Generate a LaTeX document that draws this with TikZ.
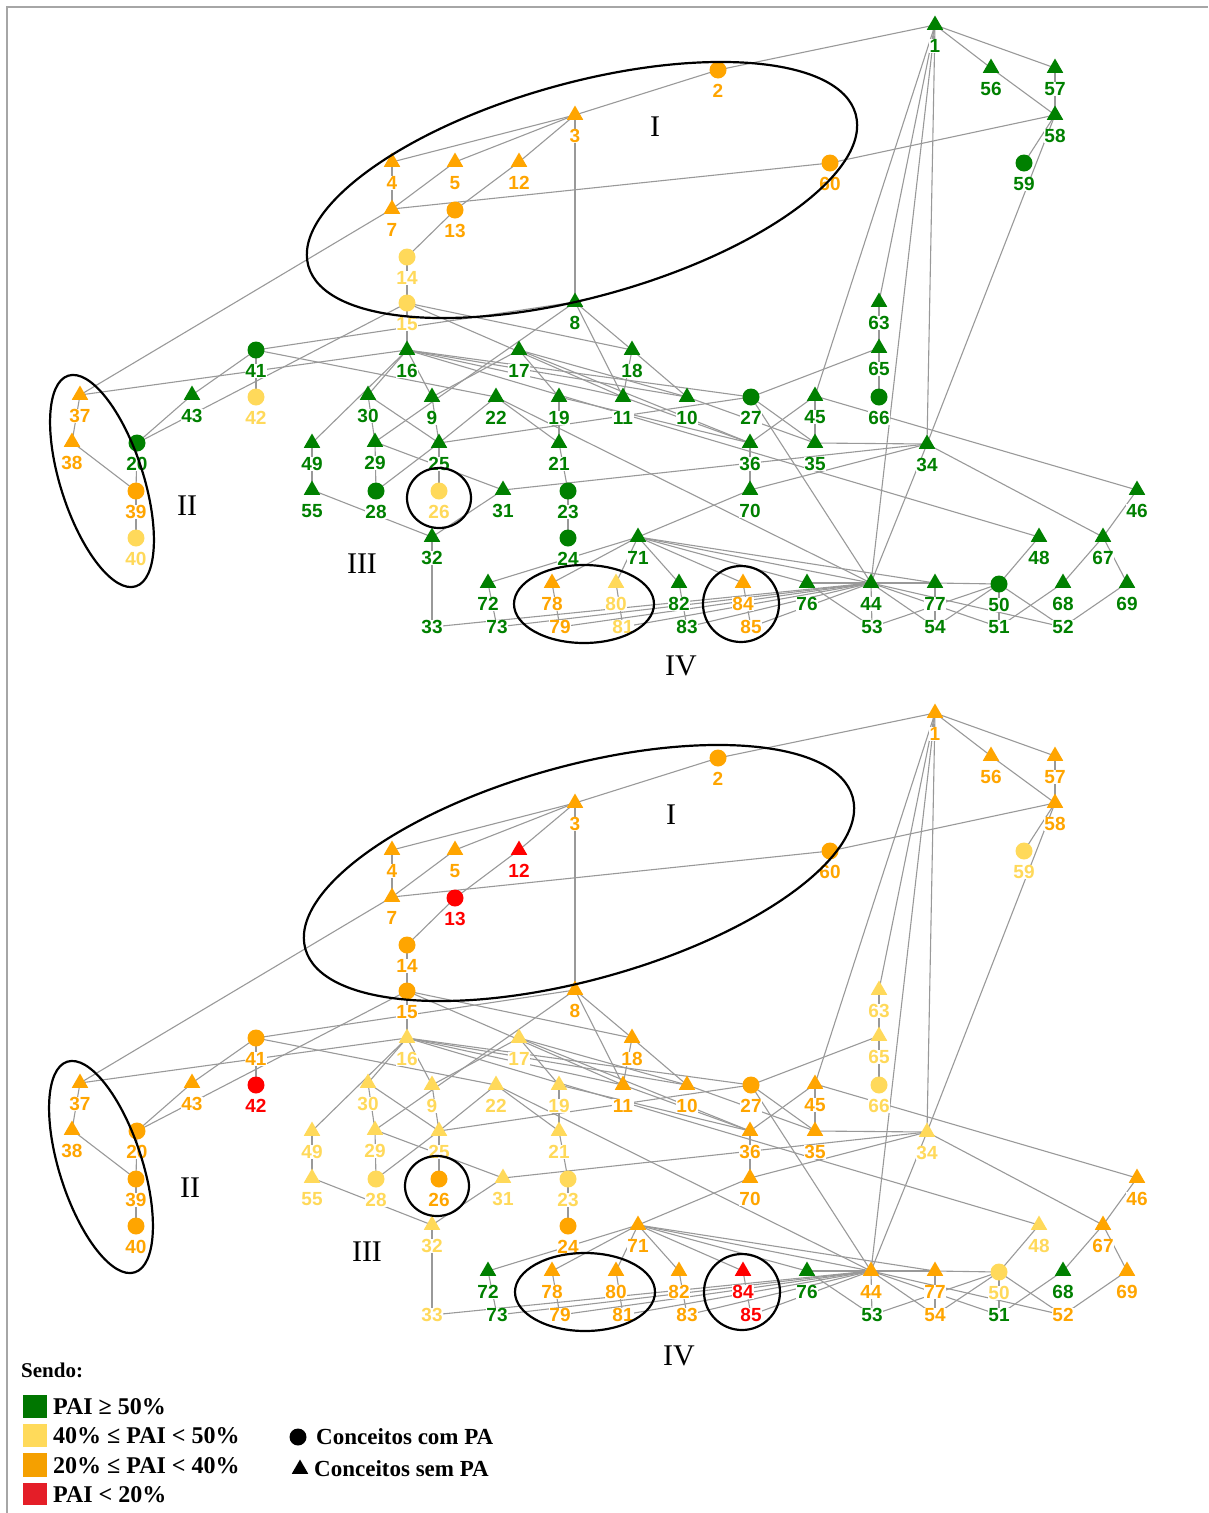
\documentclass[tikz,border=0pt]{standalone}
\usepackage{fontspec}
\setmainfont{Liberation Serif}
\newfontfamily\labfam{Liberation Sans}
\usetikzlibrary{shapes.geometric}
\pgfdeclarelayer{bg}
\pgfsetlayers{bg,main}
\definecolor{cG}{RGB}{0,128,0}
\definecolor{cY}{RGB}{255,217,90}
\definecolor{cO}{RGB}{255,165,0}
\definecolor{cR}{RGB}{255,0,0}
\definecolor{lG}{RGB}{0,118,0}
\definecolor{lY}{RGB}{255,218,90}
\definecolor{lO}{RGB}{245,160,0}
\definecolor{lR}{RGB}{228,30,40}
\def\markerlist{1/935/25/tri/cG/cO, 2/718/70/circ/cO/cO, 3/575/115/tri/cO/cO, 4/392/162/tri/cO/cO,
5/455/162/tri/cO/cO, 12/519/162/tri/cO/cR, 60/830/163/circ/cO/cO, 7/392/209/tri/cO/cO,
13/455/210/circ/cO/cR, 14/407/257/circ/cY/cO, 15/407/303/circ/cY/cO, 8/575/302/tri/cG/cO,
56/991/68/tri/cG/cO, 57/1055/68/tri/cG/cO, 58/1055/115/tri/cG/cO, 59/1024/163/circ/cG/cY,
63/879/302/tri/cG/cY, 65/879/348/tri/cG/cY, 66/879/397/circ/cG/cY, 41/256/350/circ/cG/cO,
42/256/397/circ/cY/cR, 16/407/350/tri/cG/cY, 17/519/350/tri/cG/cY, 18/632/350/tri/cG/cO,
37/80/395/tri/cO/cO, 43/192/395/tri/cG/cO, 30/368/395/tri/cG/cY, 9/432/397/tri/cG/cY,
22/496/397/tri/cG/cY, 19/559/397/tri/cG/cY, 11/623/397/tri/cG/cO, 10/687/397/tri/cG/cO,
27/751/397/circ/cG/cO, 45/815/396/tri/cG/cO, 38/72/442/tri/cO/cO, 20/137/443/circ/cG/cO,
49/312/443/tri/cG/cY, 29/375/442/tri/cG/cY, 25/439/443/tri/cG/cY, 21/559/443/tri/cG/cY,
36/750/443/tri/cG/cO, 35/815/443/tri/cG/cO, 34/927/444/tri/cG/cY, 39/136/491/circ/cO/cO,
55/312/490/tri/cG/cY, 28/376/491/circ/cG/cY, 26/439/491/circ/cY/cO, 31/503/490/tri/cG/cY,
23/568/491/circ/cG/cY, 70/750/490/tri/cG/cO, 46/1137/490/tri/cG/cO, 40/136/538/circ/cY/cO,
32/432/537/tri/cG/cY, 24/568/538/circ/cG/cO, 71/638/537/tri/cG/cO, 48/1039/537/tri/cG/cY,
67/1103/537/tri/cG/cO, 72/488/583/tri/cG/cG, 78/552/583/tri/cO/cO, 80/616/583/tri/cY/cO,
82/679/583/tri/cG/cO, 84/743/583/tri/cO/cR, 76/807/583/tri/cG/cG, 44/871/583/tri/cG/cO,
77/935/583/tri/cG/cO, 50/999/584/circ/cG/cY, 68/1063/583/tri/cG/cG, 69/1127/583/tri/cG/cO}
\def\labellist{33/432/cG/cY, 73/497/cG/cG, 79/560/cO/cO, 81/623/cY/cO, 83/687/cG/cO,
85/751/cO/cR, 53/872/cG/cG, 54/935/cG/cO, 51/999/cG/cG, 52/1063/cG/cO}
\def\edgelist{1/2,2/3,1/56,1/57,56/58,57/58,58/60,58/59,58/34,1/45,1/63,1/44,1/34,
3/4,3/5,3/12,12/13,3/8,4/7,5/7,7/60,7/37,13/14,14/15,
15/16,15/18,15/11,15/20,8/41,8/29,8/18,8/11,
16/9,16/10,16/11,16/27,16/48,16/30,16/49,16/37,
17/19,17/10,17/36,17/9,18/11,18/10,
10/35,11/36,19/36,25/27,
22/25,22/21,22/44,9/25,30/25,29/30,28/29,28/25,25/26,29/31,31/32,31/34,55/32,49/55,32/33,19/21,21/23,23/24,
27/35,27/44,45/36,45/35,45/46,63/65,65/66,65/27,36/70,34/70,34/35,34/44,34/67,70/71,
71/72,71/78,71/80,71/82,71/84,71/76,71/44,71/77,
72/73,78/79,80/81,82/83,84/85,44/53,77/54,50/51,
44/33,44/73,44/79,44/81,44/83,44/85,44/76,76/53,
44/77,44/54,44/51,44/52,50/53,50/54,77/50,50/52,48/50,51/68,67/68,46/67,67/69,69/52,
37/38,38/39,20/39,39/40,20/43,41/43,41/42,41/22}
\begin{document}
\begin{tikzpicture}[x=1pt,y=-1pt,
  tri/.style={regular polygon, regular polygon sides=3, minimum size=19pt, inner sep=0pt, draw=none},
  circ/.style={circle, minimum size=17pt, inner sep=0pt, draw=none},
  lab/.style={font={\labfam\bfseries\fontsize{19}{19}\selectfont}, inner sep=0.6pt, fill=white},
  edge/.style={draw=black!40, line width=1.1pt},
  ell/.style={draw=black, line width=2.2pt},
  rom/.style={font={\fontsize{30}{30}\selectfont}},
  leg/.style={font={\bfseries\fontsize{24}{24}\selectfont}, anchor=west, inner sep=0pt}]
\useasboundingbox (0,0) rectangle (1208,1513);
\draw[black!35, line width=1.6pt] (7,1513) -- (7,7) -- (1208,7);
% nodes
\foreach \n/\px/\py/\sh/\ca/\cb in \markerlist {
  \node[\sh, fill=\ca] (t\n) at (\px,\py) {};
  \node[lab, text=\ca] at (\px,\py+21) {\n};
  \node[\sh, fill=\cb] (b\n) at (\px,\py+688) {};
  \node[lab, text=\cb] at (\px,\py+709) {\n};
}
\foreach \n/\px/\ca/\cb in \labellist {
  \node[lab, text=\ca] (t\n) at (\px,627) {\n};
  \node[lab, text=\cb] (b\n) at (\px,1315) {\n};
}
% edges
\begin{pgfonlayer}{bg}
\foreach \a/\b in \edgelist {
  \draw[edge] (t\a.center) -- (t\b.center);
  \draw[edge] (b\a.center) -- (b\b.center);
}
\end{pgfonlayer}
% ellipses top
\draw[ell, rotate around={15.5:(582,190)}] (582,190) ellipse [x radius=284, y radius=107];
\draw[ell, rotate around={-72.2:(102,481)}] (102,481) ellipse [x radius=110.6, y radius=41.4];
\draw[ell] (439,498) ellipse [x radius=32, y radius=30];
\draw[ell] (584,604) ellipse [x radius=70, y radius=39];
\draw[ell] (741,604) ellipse [x radius=38, y radius=38];
\node[rom] (rI) at (655,127) {I};
\node[rom] (rII) at (187,506) {II};
\node[rom] (rIII) at (362,564) {III};
\node[rom] (rIV) at (681,666) {IV};
% ellipses bottom
\draw[ell, rotate around={15.5:(579,873)}] (579,873) ellipse [x radius=284, y radius=107];
\draw[ell, rotate around={-72.2:(101,1167)}] (101,1167) ellipse [x radius=110.6, y radius=41.4];
\draw[ell] (437,1186) ellipse [x radius=32, y radius=30];
\draw[ell] (585,1292) ellipse [x radius=70, y radius=39];
\draw[ell] (742,1292) ellipse [x radius=38, y radius=38];
\node[rom] (bI) at (671,815) {I};
\node[rom] (bII) at (190,1188) {II};
\node[rom] (bIII) at (367,1252) {III};
\node[rom] (bIV) at (679,1356) {IV};
% legend
\node[leg, font={\bfseries\fontsize{21}{21}\selectfont}] (sendo) at (21,1370) {Sendo:};
\fill[lG] (23,1395) rectangle (47,1418);
\fill[lY] (23,1424) rectangle (47,1447);
\fill[lO] (23,1453) rectangle (47,1477);
\fill[lR] (23,1483) rectangle (47,1505);
\node[leg] (l1) at (53,1407) {PAI ≥ 50\%};
\node[leg] (l2) at (53,1436) {40\% ≤ PAI < 50\%};
\node[leg] (l3) at (53,1466) {20\% ≤ PAI < 40\%};
\node[leg] (l4) at (53,1495) {PAI < 20\%};
\node[circ, fill=black] (lc) at (298,1437) {};
\node[tri, fill=black] (lt) at (300,1469) {};
\node[leg, font={\bfseries\fontsize{23}{23}\selectfont}] (l5) at (316,1437) {Conceitos com PA};
\node[leg, font={\bfseries\fontsize{23}{23}\selectfont}] (l6) at (314,1469) {Conceitos sem PA};
\end{tikzpicture}
\end{document}
